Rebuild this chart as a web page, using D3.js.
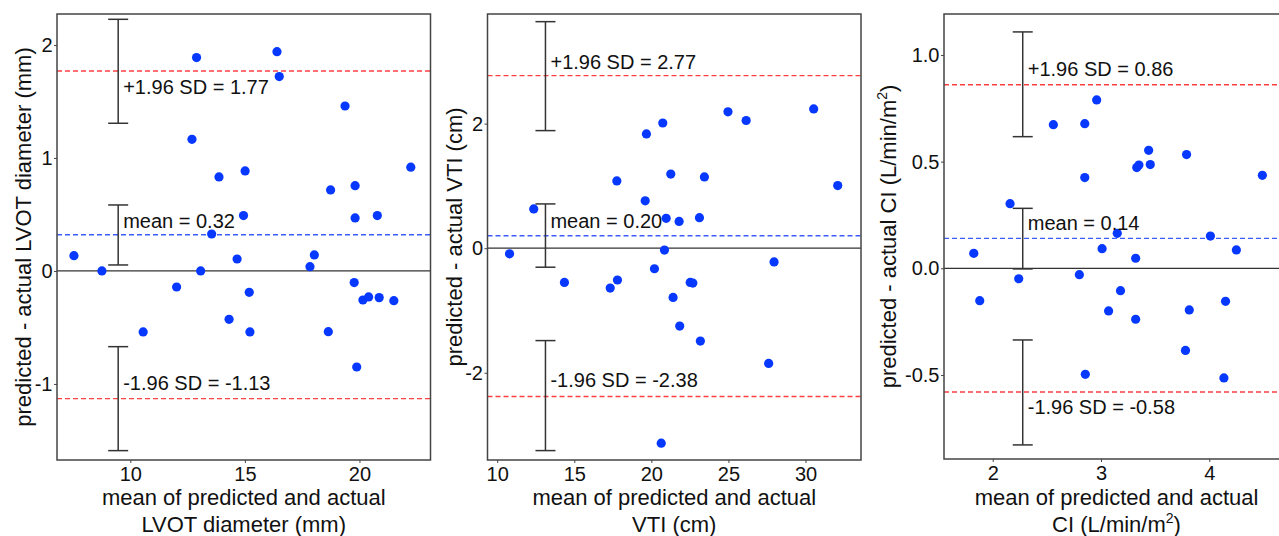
<!DOCTYPE html>
<html>
<head>
<meta charset="utf-8">
<script src="https://cdn.jsdelivr.net/npm/d3@7"></script>
<style>
  body { margin: 0; background: #fff; }
  svg { display: block; font-family: "Liberation Sans", Arial, sans-serif; }
</style>
</head>
<body>
<script>
const width = 1279;
const height = 536;

// LVOT diameter (mm)
const lvotMean = [7.54, 8.76, 12.89, 16.40, 16.50, 12.69, 13.87, 15.01, 14.94, 13.55, 14.66, 13.07, 19.37, 22.24, 18.74, 19.81, 19.81, 20.78, 18.03, 17.84,
  12.02, 10.56, 14.31, 15.19, 15.22, 18.64, 19.77, 20.15, 20.40, 20.86, 21.50, 19.88];
const lvotDiff = [0.135, 0.0, 1.888, 1.941, 1.72, 1.165, 0.832, 0.885, 0.49, 0.327, 0.106, 0.0, 1.46, 0.918, 0.717, 0.755, 0.469, 0.49, 0.142, 0.038,
  -0.142, -0.54, -0.428, -0.189, -0.54, -0.537, -0.103, -0.257, -0.23, -0.236, -0.263, -0.85];
const lvotLines = [0.32, 1.77, -1.13]; // mean, +1.96 SD, -1.96 SD
const lvotCI = [[0.053, 0.584], [1.307, 2.227], [-1.59, -0.67]];

// VTI (cm)
const vtiMean = [10.80, 12.37, 17.76, 19.68, 20.74, 24.97, 26.15, 30.53, 21.26, 23.44, 32.09, 19.60, 20.96, 21.80, 23.12, 20.85, 27.96, 20.20,
  14.36, 17.33, 17.80, 22.52, 22.69, 21.41, 21.84, 23.18, 27.61, 20.64];
const vtiDiff = [-0.09, 0.63, 1.08, 1.835, 2.01, 2.19, 2.05, 2.236, 1.19, 1.145, 1.005, 0.76, 0.48, 0.43, 0.49, -0.03, -0.22, -0.33,
  -0.55, -0.64, -0.51, -0.55, -0.56, -0.79, -1.25, -1.49, -1.85, -3.13];
const vtiLines = [0.20, 2.77, -2.38];
const vtiCI = [[-0.305, 0.711], [1.888, 3.637], [-3.249, -1.483]];

// CI (L/min/m2)
const ciMean = [1.825, 2.16, 2.56, 2.85, 2.96, 2.85, 3.44, 3.33, 3.35, 3.455, 3.79, 4.49, 3.15, 3.01, 3.32, 4.01, 4.25,
  1.88, 2.24, 2.80, 3.18, 3.07, 3.32, 3.815, 4.15, 3.78, 2.855, 4.135];
const ciDiff = [0.070, 0.303, 0.673, 0.678, 0.789, 0.425, 0.553, 0.472, 0.484, 0.486, 0.533, 0.436, 0.164, 0.092, 0.047, 0.151, 0.086,
  -0.152, -0.049, -0.030, -0.105, -0.20, -0.239, -0.195, -0.155, -0.385, -0.497, -0.514];
const ciLines = [0.14, 0.86, -0.58];
const ciCI = [[-0.003, 0.281], [0.617, 1.108], [-0.828, -0.336]];

const svg = d3.select("body").append("svg")
  .attr("width", width)
  .attr("height", height);

const panels = [
  {
    x: lvotMean, y: lvotDiff, lines: lvotLines, ci: lvotCI, barX: 9.47,
    left: 57, right: 430.5, top: 14, bottom: 460,
    xDomain: [6.8, 23.1], yDomain: [-1.673, 2.274],
    xTicks: [10, 15, 20], yTicks: [-1, 0, 1, 2], yFmt: "d",
    labelDy: [-7, 23, -9], titleOff: 26,
    xTitle: ["mean of predicted and actual", "LVOT diameter (mm)"],
    yTitle: ["predicted - actual LVOT diameter (mm)"]
  },
  {
    x: vtiMean, y: vtiDiff, lines: vtiLines, ci: vtiCI, barX: 13.13,
    left: 487.5, right: 861, top: 14, bottom: 460,
    xDomain: [9.37, 33.6], yDomain: [-3.40, 3.76],
    xTicks: [10, 15, 20, 25, 30], yTicks: [-2, 0, 2], yFmt: "d",
    labelDy: [-8, -7, -9], titleOff: 26,
    xTitle: ["mean of predicted and actual", "VTI (cm)"],
    yTitle: ["predicted - actual VTI (cm)"]
  },
  {
    x: ciMean, y: ciDiff, lines: ciLines, ci: ciCI, barX: 2.277,
    left: 944, right: 1289, top: 14, bottom: 459,
    xDomain: [1.55, 4.736], yDomain: [-0.894, 1.192],
    xTicks: [2, 3, 4], yTicks: [-0.5, 0, 0.5, 1.0], yFmt: ".1f",
    labelDy: [-8, -9, 22], titleOff: 48,
    xTitle: ["mean of predicted and actual", "CI (L/min/m", "2", ")"],
    yTitle: ["predicted - actual CI (L/min/m", "2", ")"]
  }
];

const lineNames = ["mean", "+1.96 SD", "-1.96 SD"];

// plain hyphen for negatives, like the original figure
const hyphen = (f) => (v) => d3.format(f)(v).replace("\u2212", "-");

panels.forEach((p) => {
  const x = d3.scaleLinear().domain(p.xDomain).range([p.left, p.right]);
  const y = d3.scaleLinear().domain(p.yDomain).range([p.bottom, p.top]);
  const g = svg.append("g");

  // axes
  const xAxis = g.append("g")
    .attr("transform", `translate(0,${p.bottom})`)
    .call(d3.axisBottom(x).tickValues(p.xTicks).tickFormat(d3.format("d")).tickSize(3).tickPadding(4).tickSizeOuter(0));
  const yAxis = g.append("g")
    .attr("transform", `translate(${p.left},0)`)
    .call(d3.axisLeft(y).tickValues(p.yTicks).tickFormat(hyphen(p.yFmt)).tickSize(3).tickPadding(1.5).tickSizeOuter(0));
  [xAxis, yAxis].forEach((a) => {
    a.select(".domain").remove();
    a.selectAll("line").attr("stroke", "#444");
    a.selectAll("text").attr("font-size", 20).attr("fill", "#111");
  });

  // zero line
  g.append("line")
    .attr("x1", p.left).attr("x2", p.right)
    .attr("y1", y(0)).attr("y2", y(0))
    .attr("stroke", "#333").attr("stroke-width", 1.3);

  // limit lines
  p.lines.forEach((v, i) => {
    g.append("line")
      .attr("x1", p.left).attr("x2", p.right)
      .attr("y1", y(v)).attr("y2", y(v))
      .attr("stroke", i === 0 ? "#3d5cff" : "#ff4040")
      .attr("stroke-width", 1.4)
      .attr("stroke-dasharray", "5,3");
  });

  // confidence intervals of mean and limits
  const bx = x(p.barX);
  p.ci.forEach((c) => {
    g.append("line")
      .attr("x1", bx).attr("x2", bx)
      .attr("y1", y(c[0])).attr("y2", y(c[1]))
      .attr("stroke", "#333").attr("stroke-width", 1.5);
    c.forEach((v) => {
      g.append("line")
        .attr("x1", bx - 10).attr("x2", bx + 10)
        .attr("y1", y(v)).attr("y2", y(v))
        .attr("stroke", "#333").attr("stroke-width", 1.5);
    });
  });

  // points
  g.selectAll("circle")
    .data(p.x.map((d, i) => [d, p.y[i]]))
    .join("circle")
    .attr("cx", (d) => x(d[0]))
    .attr("cy", (d) => y(d[1]))
    .attr("r", 4.6)
    .attr("fill", "#0638ff");

  // labels
  p.lines.forEach((v, i) => {
    g.append("text")
      .attr("x", bx + 5)
      .attr("y", y(v) + p.labelDy[i])
      .attr("font-size", 20)
      .attr("fill", "#111")
      .text(`${lineNames[i]} = ${hyphen(".2f")(v)}`);
  });

  // frame
  g.append("rect")
    .attr("x", p.left).attr("y", p.top)
    .attr("width", p.right - p.left).attr("height", p.bottom - p.top)
    .attr("fill", "none").attr("stroke", "#444").attr("stroke-width", 1.5);

  // x title
  const cx = (p.left + p.right) / 2;
  g.append("text")
    .attr("x", cx).attr("y", 505)
    .attr("text-anchor", "middle").attr("font-size", 22).attr("fill", "#111")
    .text(p.xTitle[0]);
  const t2 = g.append("text")
    .attr("x", cx).attr("y", 532)
    .attr("text-anchor", "middle").attr("font-size", 22).attr("fill", "#111");
  t2.append("tspan").text(p.xTitle[1]);
  if (p.xTitle.length > 2) {
    t2.append("tspan").attr("font-size", 14).attr("dy", -9).text(p.xTitle[2]);
    t2.append("tspan").attr("dy", 9).text(p.xTitle[3]);
  }

  // y title
  const yt = g.append("text")
    .attr("transform", `translate(${p.left - p.titleOff},${(p.top + p.bottom) / 2}) rotate(-90)`)
    .attr("text-anchor", "middle").attr("font-size", 22).attr("fill", "#111");
  yt.append("tspan").text(p.yTitle[0]);
  if (p.yTitle.length > 1) {
    yt.append("tspan").attr("font-size", 14).attr("dy", -9).text(p.yTitle[1]);
    yt.append("tspan").attr("dy", 9).text(p.yTitle[2]);
  }
});
</script>
</body>
</html>
